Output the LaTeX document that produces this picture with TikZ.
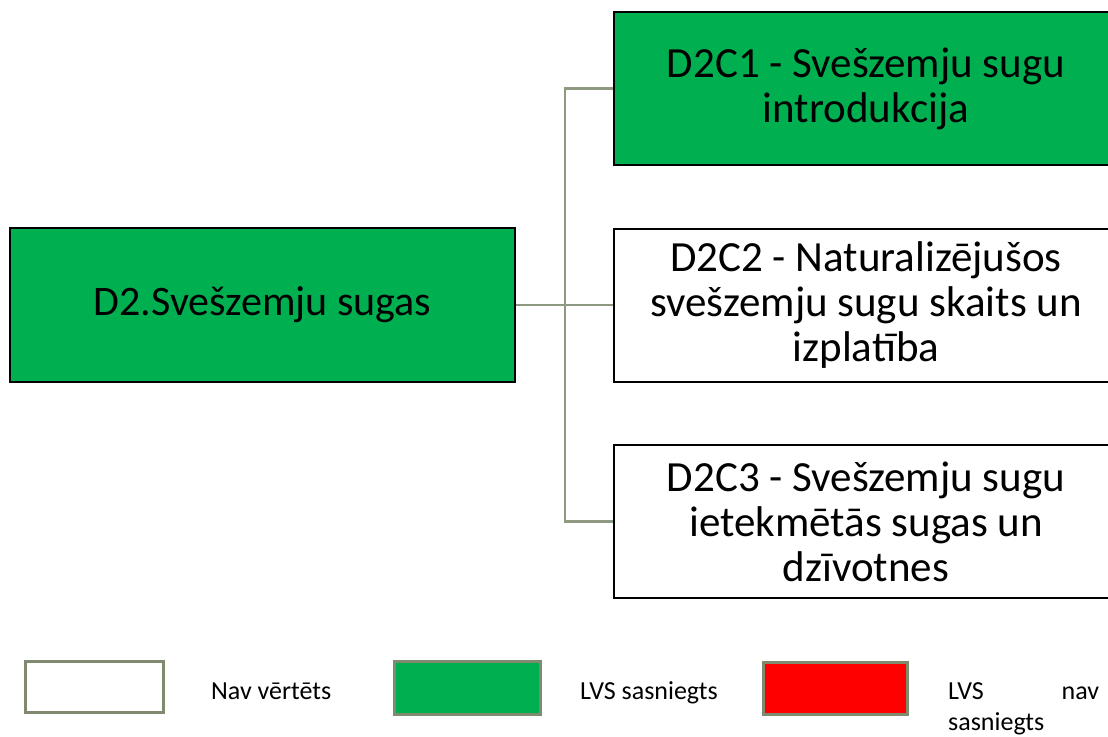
\documentclass[tikz,border=0pt]{standalone}
\usepackage{fontspec}
\setmainfont{Carlito}
\definecolor{okgreen}{HTML}{00B050}
\definecolor{linkc}{HTML}{8D9980}
\definecolor{legc}{HTML}{7F8A6F}
\begin{document}
\begin{tikzpicture}[x=1pt,y=-1pt,
  box/.style={draw=black,line width=2pt,minimum width=504pt,minimum height=153pt,inner sep=0pt,align=center,font=\fontsize{43}{45}\selectfont},
  link/.style={draw=linkc,line width=2.6pt},
  legbox/.style={draw=legc,line width=2.8pt,inner sep=0pt,anchor=north west},
  legtext/.style={font=\fontsize{26}{31}\selectfont,anchor=base west,inner sep=0pt}]
\useasboundingbox (0,0) rectangle (1108,736);
\clip (0,0) rectangle (1108,736);
\node[box,fill=okgreen,minimum width=505pt,minimum height=154pt,font=\fontsize{42}{45}\selectfont] (root) at (262.5,305) {D2.Svešzemju sugas};
\node[box,fill=okgreen] (c1) at (866,88.5) {D2C1 - Svešzemju sugu\\introdukcija};
\node[box,fill=white] (c2) at (866,305) {D2C2 - Naturalizējušos\\svešzemju sugu skaits un\\izplatība};
\node[box,fill=white] (c3) at (866,521.5) {D2C3 - Svešzemju sugu\\ietekmētās sugas un\\dzīvotnes};
\coordinate (j) at (565,305);
\draw[link] (root.east) -- (j);
\draw[link] (j) |- (c1.west);
\draw[link] (j) -- (c2.west);
\draw[link] (j) |- (c3.west);
% legend
\node[legbox,fill=white,minimum width=138pt,minimum height=51pt] (l1) at (24,660) {};
\node[legtext] (t1) at (211,699) {Nav vērtēts};
\node[legbox,fill=okgreen,minimum width=146pt,minimum height=53pt] (l2) at (393,660) {};
\node[legtext] (t2) at (580,699) {LVS sasniegts};
\node[legbox,fill=red,minimum width=144pt,minimum height=52pt] (l3) at (762,661) {};
\node[legtext,text width=151pt,align=left] (t3) at (948,699) {LVS\hfill nav\\sasniegts};
\end{tikzpicture}
\end{document}
